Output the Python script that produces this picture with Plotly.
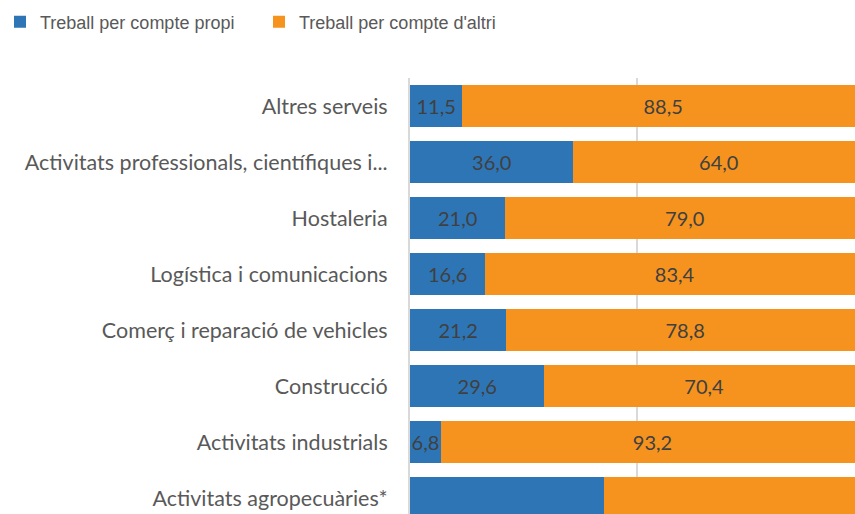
import plotly.graph_objects as go

categories = [
    "Altres serveis",
    "Activitats professionals, científiques i...",
    "Hostaleria",
    "Logística i comunicacions",
    "Comerç i reparació de vehicles",
    "Construcció",
    "Activitats industrials",
    "Activitats agropecuàries*",
]
propi = [11.5, 36.0, 21.0, 16.6, 21.2, 29.6, 6.8, 42.8]
altri = [88.5, 64.0, 79.0, 83.4, 78.8, 70.4, 93.2, 57.2]
show_label = [True, True, True, True, True, True, True, False]

def fmt(vals):
    return [f"{v:.1f}".replace(".", ",") if s else "" for v, s in zip(vals, show_label)]

BLUE = "#2E75B6"
ORANGE = "#F6931F"

fig = go.Figure()
for name, vals, col in [("Treball per compte propi", propi, BLUE),
                        ("Treball per compte d'altri", altri, ORANGE)]:
    fig.add_trace(go.Bar(
        y=categories, x=vals, name=name, orientation="h",
        marker=dict(color=col, line=dict(width=0)),
        text=fmt(vals), textposition="inside", insidetextanchor="middle",
        textangle=0, constraintext="none",
        textfont=dict(family="Lato", size=20, color="#404040"),
        hoverinfo="skip",
    ))

fig.update_layout(
    barmode="stack",
    bargap=0.25,
    width=855, height=514,
    margin=dict(l=410, r=0, t=78, b=0, autoexpand=False),
    paper_bgcolor="white", plot_bgcolor="white",
    showlegend=True,
    legend=dict(orientation="h",
                x=-410 / 445, xanchor="left", y=1 + (78 - 22) / 436, yanchor="middle",
                font=dict(family="Liberation Sans", size=18, color="#595959"),
                entrywidth=214, entrywidthmode="pixels",
                itemsizing="constant", traceorder="normal"),
    xaxis=dict(range=[0, 98], dtick=50, showgrid=True, gridcolor="#D9D9D9", gridwidth=1.5,
               showticklabels=False, zeroline=False, showline=False, fixedrange=True),
    yaxis=dict(range=[7.286, -0.5], tickfont=dict(family="Lato", size=21.5, color="#595959"),
               ticks="", ticklabelstandoff=16, showline=True, linecolor="#D9D9D9",
               linewidth=2, showgrid=False, fixedrange=True),
)
fig.write_html("out.html",
               config={"displayModeBar": False, "staticPlot": True},
               post_script="document.body.style.margin='0';document.body.style.overflow='hidden';")
